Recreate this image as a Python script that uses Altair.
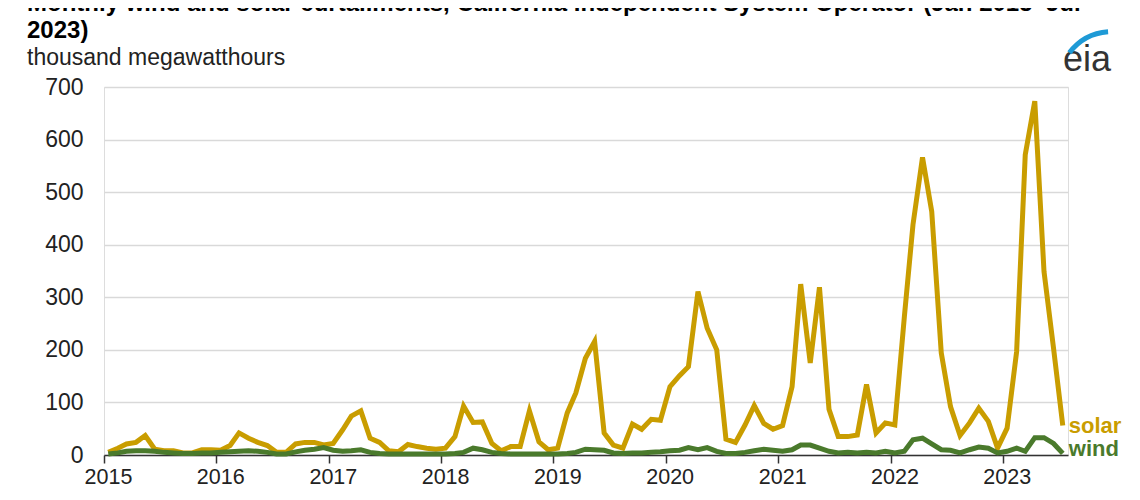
import altair as alt
import pandas as pd

# Monthly curtailments, thousand MWh, Jan 2015 - Jul 2023
solar = [
    5, 13, 21, 24, 37, 11, 8, 8, 4, 4, 10, 10,
    9, 18, 42, 32, 24, 18, 5, 5, 21, 24, 24, 19,
    22, 48, 74, 84, 32, 24, 8, 6, 20, 16, 13, 11,
    13, 35, 93, 62, 63, 22, 8, 16, 16, 84, 25, 10,
    13, 80, 118, 184, 216, 42, 19, 13, 59, 49, 68, 66,
    130, 151, 168, 311, 241, 200, 30, 24, 57, 94, 60, 49,
    56, 130, 325, 175, 319, 87, 35, 35, 38, 134, 42, 61,
    57, 263, 438, 566, 463, 194, 92, 37, 61, 89, 64, 13,
    51, 197, 571, 673, 349, 203, 56,
]
wind = [
    2, 4, 7, 8, 8, 7, 5, 4, 3, 3, 4, 4,
    5, 6, 7, 8, 7, 5, 2, 2, 6, 9, 11, 14,
    9, 7, 8, 10, 5, 3, 2, 2, 2, 2, 2, 2,
    2, 3, 5, 13, 10, 5, 3, 2, 2, 2, 2, 2,
    2, 3, 5, 11, 10, 9, 4, 3, 4, 4, 5, 6,
    8, 9, 14, 10, 14, 7, 3, 3, 5, 8, 11, 9,
    7, 10, 19, 19, 13, 7, 4, 5, 4, 5, 4, 7,
    4, 7, 29, 32, 21, 10, 9, 4, 10, 15, 13, 4,
    7, 13, 7, 33, 33, 22, 3,
]
series_names = ["solar", "wind"]
series_colors = ["#C99D00", "#4A7A2C"]
year_ticks = list(range(2015, 2024))
y_ticks = [0, 100, 200, 300, 400, 500, 600, 700]

dates = pd.date_range("2015-01-15", periods=len(solar), freq=pd.DateOffset(months=1))
date_str = [d.strftime("%Y-%m-%d") for d in dates]

df = pd.DataFrame({
    "date": date_str * 2,
    "value": solar + wind,
    "series": ["solar"] * len(solar) + ["wind"] * len(wind),
})
last = df[df["date"] == date_str[-1]]

FONT = "Liberation Sans"

x_enc = alt.X(
    "date:T",
    scale=alt.Scale(domain=[alt.DateTime(year=2015, month=1, date=1),
                            alt.DateTime(year=2023, month=8, date=1)]),
    axis=alt.Axis(
        values=[alt.DateTime(year=y, month=1, date=1) for y in year_ticks],
        format="%Y", title=None, grid=False,
        domainColor="#333333", domainWidth=1.5,
        tickColor="#333333", tickWidth=1.5, tickSize=8,
        labelFontSize=21.5, labelFont=FONT, labelColor="#222222",
        labelPadding=3, labelOffset=4, labelFlush=False, labelOverlap=False,
    ),
)
y_enc = alt.Y(
    "value:Q",
    scale=alt.Scale(domain=[0, 700], nice=False),
    axis=alt.Axis(
        values=y_ticks, title=None, domain=False, ticks=False,
        labelFontSize=23, labelFont=FONT, labelColor="#222222", labelPadding=21,
        gridColor="#d9d9d9", gridWidth=1.5,
    ),
)
color_enc = alt.Color("series:N", scale=alt.Scale(domain=series_names, range=series_colors), legend=None)

base = alt.Chart(df)
solar_line = base.transform_filter(alt.datum.series == "solar").mark_line(strokeWidth=5).encode(
    x=x_enc, y=y_enc, color=color_enc)
wind_line = base.transform_filter(alt.datum.series == "wind").mark_line(strokeWidth=5).encode(
    x=x_enc, y=y_enc, color=color_enc)

lab = alt.Chart(last)
solar_lab = lab.transform_filter(alt.datum.series == "solar").mark_text(
    align="left", baseline="middle", dx=6, dy=0, fontSize=22, fontWeight="bold", font=FONT
).encode(x="date:T", y="value:Q", text="series:N", color=color_enc)
wind_lab = lab.transform_filter(alt.datum.series == "wind").mark_text(
    align="left", baseline="middle", dx=6, dy=-4, fontSize=22, fontWeight="bold", font=FONT
).encode(x="date:T", y="value:Q", text="series:N", color=color_enc)

logo_df = pd.DataFrame({"t": ["eia"]})
logo_text = alt.Chart(logo_df).mark_text(
    align="center", baseline="alphabetic", fontSize=36, font=FONT, color="#333333"
).encode(x=alt.value(983), y=alt.value(-16), text="t:N")
logo_arc = alt.Chart(logo_df).mark_arc(
    theta=5.36, theta2=6.21, radius=51, radius2=56, color="#1E9AD6"
).encode(x=alt.value(1008), y=alt.value(-2))

chart = alt.layer(solar_line, wind_line, solar_lab, wind_lab, logo_text, logo_arc).properties(
    width=964, height=368,
    autosize=alt.AutoSizeParams(type="none"),
    padding={"left": 96, "top": 79, "right": 64, "bottom": 36},
    title=alt.Title(
        text=["Monthly wind and solar curtailments, California Independent System Operator (Jan 2015\u2013Jul",
              "2023)"],
        subtitle="thousand megawatthours",
        anchor="start", frame="group", dx=-77, offset=-41,
        font=FONT, fontSize=24, fontWeight="bold", color="#000000", lineHeight=27,
        subtitleFont=FONT, subtitleFontSize=23, subtitleColor="#222222", subtitlePadding=4,
    ),
).configure_view(stroke=None).configure(background="white")

chart.save("out.html", embed_options={"renderer": "svg", "actions": False})
